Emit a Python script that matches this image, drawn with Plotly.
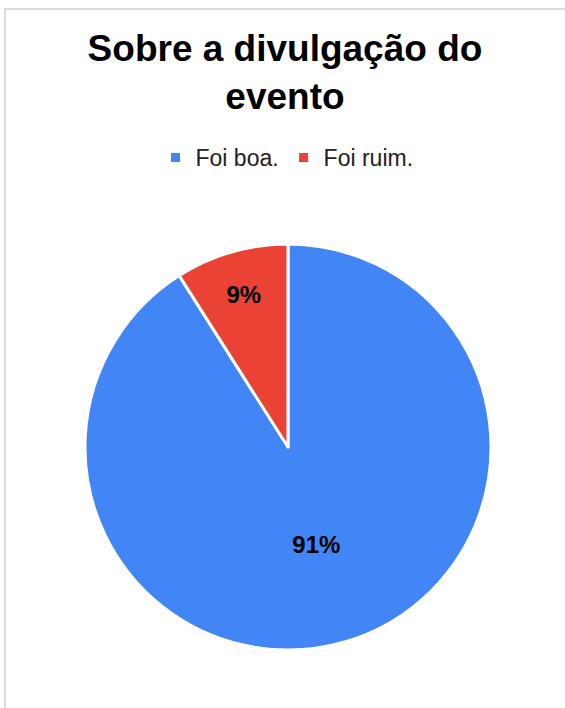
import plotly.graph_objects as go

labels = ["Foi boa.", "Foi ruim."]
values = [91, 9]
colors = ["#4285F4", "#EA4335"]
title_text = "Sobre a divulgação do<br>evento"

W, H = 565, 708
cx, cy, R = 288, 447, 203
ml, mr = cx - R, W - (cx + R)
mt, mb = cy - R, H - (cy + R)

fig = go.Figure(go.Pie(
    labels=labels, values=values, sort=False, direction="clockwise", rotation=0,
    marker=dict(colors=colors, line=dict(color="white", width=3)),
    texttemplate="%{percent:.0%}", textposition="inside", insidetextorientation="horizontal",
    textfont=dict(family="Liberation Sans, Arial", size=24, color="black", weight="bold"),
    hole=0,
))

pw = W - ml - mr
ph = H - mt - mb
def px_x(p):
    return (p - ml) / pw
def px_y(p):
    return 1 - (p - mt) / ph

fig.add_shape(type="rect", xref="paper", yref="paper",
              x0=px_x(5), x1=px_x(W + 20), y0=px_y(H + 20), y1=px_y(9),
              line=dict(color="#d9d9d9", width=2), fillcolor="rgba(0,0,0,0)", layer="below")

fig.update_layout(
    width=W, height=H,
    margin=dict(l=ml, r=mr, t=mt, b=mb, autoexpand=False),
    paper_bgcolor="white", plot_bgcolor="white",
    title=dict(text=title_text, x=285 / W, xanchor="center", xref="container",
               y=1 - 61 / H, yanchor="top", yref="container",
               font=dict(family="Liberation Sans, Arial", size=37, color="black", weight="bold")),
    legend=dict(orientation="h", x=287 / W, xanchor="center", xref="container",
                y=1 - 136 / H, yanchor="top", yref="container",
                font=dict(family="Liberation Sans, Arial", size=23, color="#222222"),
                itemwidth=30),
    showlegend=True,
)

fig.write_html("out.html", post_script="document.body.style.margin='0';",
               config={"displayModeBar": False})
